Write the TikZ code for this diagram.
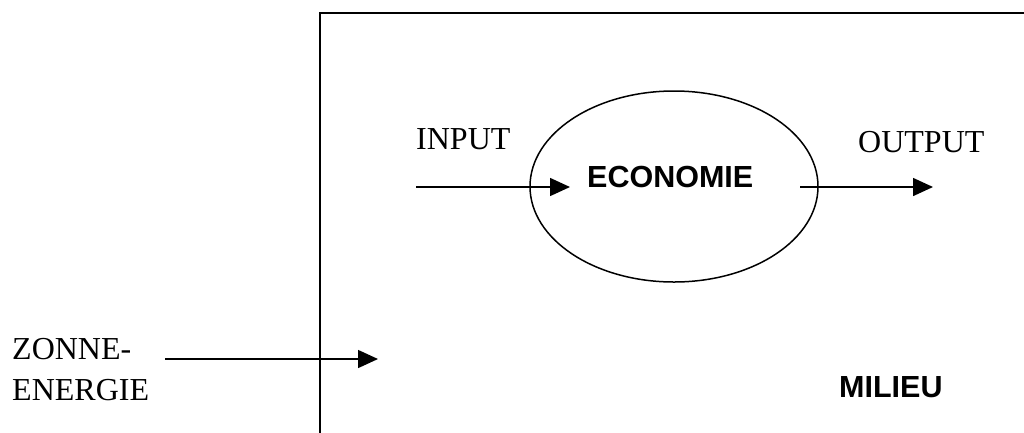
\documentclass[tikz,border=0pt]{standalone}
\usepackage{fontspec}
\setmainfont{Liberation Serif}
\newfontfamily\labelsans{Liberation Sans}
\usetikzlibrary{arrows.meta,shapes.geometric}
\begin{document}
\begin{tikzpicture}[x=1pt,y=-1pt,
  flow/.style={line width=1.5pt,-{Triangle[length=20pt,width=18pt]}},
  plain/.style={inner sep=0pt,anchor=base west,font=\fontsize{32}{40}\selectfont},
  heavy/.style={inner sep=0pt,anchor=base west,font=\labelsans\bfseries\fontsize{30.5}{36}\selectfont}]
  \useasboundingbox (0,0) rectangle (1024,432);
  \clip (0,0) rectangle (1024,432);
  \fill[white] (0,0) rectangle (1024,432);

  % system boundary (environment)
  \draw[line width=2pt] (320,500) -- (320,13) -- (1100,13);

  % economy
  \node[draw,ellipse,line width=1.5pt,minimum width=288pt,minimum height=191pt] (eco) at (674,186.5) {};
  \node[heavy] (ecotext) at (587,187) {ECONOMIE};

  % labels
  \node[plain] (input) at (416,149) {INPUT};
  \node[plain] (output) at (858,152) {OUTPUT};
  \node[plain] (zonne) at (12,359) {ZONNE-};
  \node[plain] (energie) at (12,400) {ENERGIE};
  \node[heavy] (milieu) at (839,397) {MILIEU};

  % flows
  \coordinate (inA) at (416,187);
  \coordinate (inB) at (570,187);
  \coordinate (outA) at (800,187);
  \coordinate (outB) at (933,187);
  \coordinate (sunA) at (165,359);
  \coordinate (sunB) at (378,359);
  \draw[flow] (inA) -- (inB);
  \draw[flow] (outA) -- (outB);
  \draw[flow] (sunA) -- (sunB);
\end{tikzpicture}
\end{document}
